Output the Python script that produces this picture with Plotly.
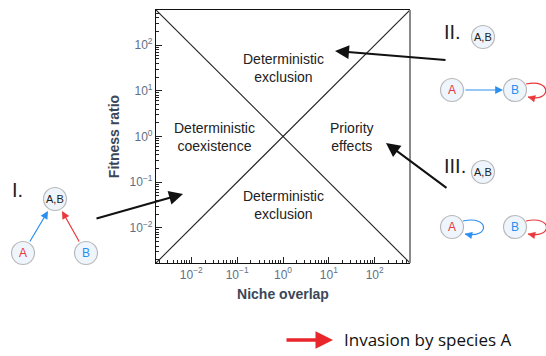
import plotly.graph_objects as go

# ---- data -------------------------------------------------------------
# Boundary lines on the niche-overlap / fitness-ratio plane
boundary_x = [0.0017, 589.0]
rising_y = [0.0017, 589.0]      # fitness ratio = niche overlap
falling_y = [589.0, 0.0017]     # fitness ratio = 1 / niche overlap

tick_exponents = [-2, -1, 0, 1, 2]
tick_values = [0.01, 0.1, 1, 10, 100]
tick_labels = ["10<sup>\u22122</sup>", "10<sup>\u22121</sup>", "10<sup>0</sup>",
               "10<sup>1</sup>", "10<sup>2</sup>"]

region_labels = ["Deterministic<br>exclusion", "Deterministic<br>coexistence",
                 "Priority<br>effects", "Deterministic<br>exclusion"]
region_log_x = [0.0, -1.5, 1.5, 0.0]
region_log_y = [1.5, 0.0, 0.0, -1.5]

# ---- figure geometry ----------------------------------------------------
W, H = 546, 356
L, R, T, B = 156, 410, 10, 263
LOG_RANGE = [-2.77, 2.77]


def px(x):
    return (x - L) / (R - L)


def py(y):
    return (B - y) / (B - T)


BLUE = "#2b8ff0"
RED = "#e8383d"
NODE_FILL = "#eef5fd"
NODE_LINE = "#b9b9b9"
FONT = "Liberation Sans"

fig = go.Figure()
for yy in (rising_y, falling_y):
    fig.add_trace(go.Scatter(x=boundary_x, y=yy, mode="lines",
                             line=dict(color="#222222", width=1.1),
                             hoverinfo="skip", showlegend=False))

shapes = []
annotations = []

# region labels inside the plot
for txt, lx, ly in zip(region_labels, region_log_x, region_log_y):
    annotations.append(dict(x=lx, y=ly, xref="x", yref="y", text=txt,
                            xanchor="center", yanchor="middle",
                            showarrow=False, font=dict(family=FONT, size=14, color="#222222")))

# right border in grey
shapes.append(dict(type="line", xref="paper", yref="paper", x0=1, x1=1, y0=0, y1=1,
                   line=dict(color="#8a8a8a", width=2)))


def label(x, y, txt, size, color, family=FONT, xanchor="center"):
    annotations.append(dict(x=px(x), y=py(y), xref="paper", yref="paper", text=txt,
                            showarrow=False, xanchor=xanchor, yanchor="middle",
                            font=dict(family=family, size=size, color=color)))


def node(cx, cy, txt, color, size):
    r = 11.5
    shapes.append(dict(type="circle", xref="paper", yref="paper",
                       x0=px(cx - r), x1=px(cx + r), y0=py(cy + r), y1=py(cy - r),
                       fillcolor=NODE_FILL, line=dict(color=NODE_LINE, width=1.2), layer="above"))
    label(cx, cy, txt, size, color)


def arrow(tail, head, color, width, size, headstyle=2):
    annotations.append(dict(x=px(head[0]), y=py(head[1]), xref="paper", yref="paper",
                            ax=tail[0] - head[0], ay=tail[1] - head[1],
                            axref="pixel", ayref="pixel", text="", showarrow=True,
                            arrowhead=headstyle, arrowsize=size, arrowwidth=width,
                            arrowcolor=color, standoff=0, startstandoff=0))


def loop(start, c1, c2, end, color):
    path = "M {} {} C {} {}, {} {}, {} {}".format(
        px(start[0]), py(start[1]), px(c1[0]), py(c1[1]),
        px(c2[0]), py(c2[1]), px(end[0]), py(end[1]))
    shapes.append(dict(type="path", xref="paper", yref="paper", path=path,
                       line=dict(color=color, width=1.2)))
    # arrowhead along the end tangent
    dx, dy = end[0] - c2[0], end[1] - c2[1]
    n = (dx * dx + dy * dy) ** 0.5
    ux, uy = dx / n, dy / n
    hl, hw = 7.0, 3.2
    bx, by = end[0] - ux * hl, end[1] - uy * hl
    p1 = (bx - uy * hw, by + ux * hw)
    p2 = (bx + uy * hw, by - ux * hw)
    tri = "M {} {} L {} {} L {} {} Z".format(px(end[0]), py(end[1]), px(p1[0]), py(p1[1]),
                                             px(p2[0]), py(p2[1]))
    shapes.append(dict(type="path", xref="paper", yref="paper", path=tri,
                       fillcolor=color, line=dict(color=color, width=0.5)))


# diagram I: both species invade the empty community
label(10, 190, "I.", 20, "#222222", xanchor="left")
arrow((29, 243), (48, 211), BLUE, 1.2, 1.3)
arrow((80, 243), (62, 211), RED, 1.2, 1.3)
node(55, 199, "A,B", "#222222", 11)
node(23, 253, "A", RED, 12)
node(86, 253, "B", BLUE, 12)

# diagram II: B excludes A
label(442, 32, "II.", 20, "#222222", xanchor="left")
node(483, 37, "A,B", "#222222", 11)
arrow((464, 90), (503, 90), BLUE, 1.2, 1.3)
loop((526, 84), (552, 78), (552, 103), (528, 97), RED)
node(452, 90, "A", RED, 12)
node(515, 90, "B", BLUE, 12)

# diagram III: priority effects
label(442, 166, "III.", 20, "#222222", xanchor="left")
node(483, 172, "A,B", "#222222", 11)
loop((463, 221), (490, 215), (490, 239), (465, 234), BLUE)
loop((526, 221), (553, 215), (553, 239), (528, 234), RED)
node(452, 227, "A", RED, 12)
node(515, 227, "B", BLUE, 12)

# black pointer arrows into the plot
arrow((95, 219), (183, 194), "#111111", 2, 1.4)
arrow((447, 60), (335, 51), "#111111", 2, 1.4)
arrow((448, 189), (386, 143), "#111111", 2, 1.4)

# legend key
arrow((285, 340), (333, 340), "#e8262b", 3.5, 1.0)
label(342, 339, "Invasion by species A", 17, "#111111", family="Open Sans", xanchor="left")

axis_common = dict(
    type="log", range=LOG_RANGE, tickmode="array", tickvals=tick_values, ticktext=tick_labels,
    ticks="inside", ticklen=6, tickwidth=1, tickcolor="#222222",
    minor=dict(ticks="inside", ticklen=3, tickwidth=1, tickcolor="#222222", dtick="D1", showgrid=False),
    showline=True, linecolor="#111111", linewidth=1.2, showgrid=False, zeroline=False,
    tickfont=dict(family=FONT, size=12, color="#5f6f86"),
)

fig.update_layout(
    width=W, height=H, autosize=False,
    margin=dict(l=L, r=W - R, t=T, b=H - B, pad=0),
    paper_bgcolor="white", plot_bgcolor="white",
    showlegend=False,
    xaxis=dict(**axis_common, mirror=True,
               title=dict(text="<b>Niche overlap</b>", standoff=8,
                          font=dict(family=FONT, size=14, color="#3b4759"))),
    yaxis=dict(**axis_common,
               title=dict(text="<b>Fitness ratio</b>", standoff=6,
                          font=dict(family=FONT, size=14, color="#3b4759"))),
    shapes=shapes,
    annotations=annotations,
)

fig.write_html("out.html")
